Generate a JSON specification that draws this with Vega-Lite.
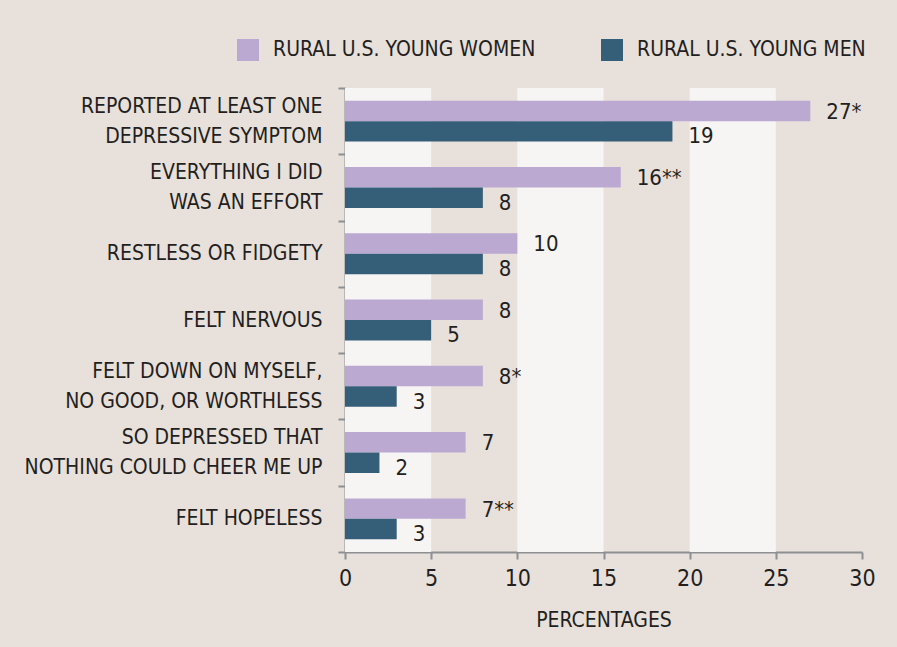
{
  "$schema": "https://vega.github.io/schema/vega-lite/v6.json",
  "width": 517,
  "height": 464,
  "autosize": {"type": "none"},
  "padding": {"left": 345, "top": 88, "right": 35, "bottom": 95},
  "background": "#e8e0db",
  "config": {
    "font": "DejaVu Sans Condensed",
    "view": {"stroke": null},
    "axis": {"labelColor": "#231f20", "titleColor": "#231f20", "domainColor": "#8c8f93", "tickColor": "#8c8f93", "domainWidth": 2, "tickWidth": 2, "grid": false}
  },
  "data": {
    "values": [
      {"cat": "REPORTED AT LEAST ONE|DEPRESSIVE SYMPTOM", "group": "RURAL U.S. YOUNG WOMEN", "value": 27, "label": "27*"},
      {"cat": "REPORTED AT LEAST ONE|DEPRESSIVE SYMPTOM", "group": "RURAL U.S. YOUNG MEN", "value": 19, "label": "19"},
      {"cat": "EVERYTHING I DID|WAS AN EFFORT", "group": "RURAL U.S. YOUNG WOMEN", "value": 16, "label": "16**"},
      {"cat": "EVERYTHING I DID|WAS AN EFFORT", "group": "RURAL U.S. YOUNG MEN", "value": 8, "label": "8"},
      {"cat": "RESTLESS OR FIDGETY", "group": "RURAL U.S. YOUNG WOMEN", "value": 10, "label": "10"},
      {"cat": "RESTLESS OR FIDGETY", "group": "RURAL U.S. YOUNG MEN", "value": 8, "label": "8"},
      {"cat": "FELT NERVOUS", "group": "RURAL U.S. YOUNG WOMEN", "value": 8, "label": "8"},
      {"cat": "FELT NERVOUS", "group": "RURAL U.S. YOUNG MEN", "value": 5, "label": "5"},
      {"cat": "FELT DOWN ON MYSELF,|NO GOOD, OR WORTHLESS", "group": "RURAL U.S. YOUNG WOMEN", "value": 8, "label": "8*"},
      {"cat": "FELT DOWN ON MYSELF,|NO GOOD, OR WORTHLESS", "group": "RURAL U.S. YOUNG MEN", "value": 3, "label": "3"},
      {"cat": "SO DEPRESSED THAT|NOTHING COULD CHEER ME UP", "group": "RURAL U.S. YOUNG WOMEN", "value": 7, "label": "7"},
      {"cat": "SO DEPRESSED THAT|NOTHING COULD CHEER ME UP", "group": "RURAL U.S. YOUNG MEN", "value": 2, "label": "2"},
      {"cat": "FELT HOPELESS", "group": "RURAL U.S. YOUNG WOMEN", "value": 7, "label": "7**"},
      {"cat": "FELT HOPELESS", "group": "RURAL U.S. YOUNG MEN", "value": 3, "label": "3"}
    ]
  },
  "layer": [
    {
      "data": {"values": [{"s": 0, "e": 5}, {"s": 10, "e": 15}, {"s": 20, "e": 25}]},
      "mark": {"type": "rect", "color": "#f6f5f3"},
      "encoding": {
        "x": {"field": "s", "type": "quantitative", "scale": {"domain": [0, 30]}},
        "x2": {"field": "e"}
      }
    },
    {
      "mark": {"type": "bar"},
      "encoding": {
        "y": {"field": "cat", "type": "nominal", "sort": null, "scale": {"paddingInner": 0, "paddingOuter": 0},
          "axis": {"title": null, "labelExpr": "indexof(datum.label, '|') >= 0 ? [split(datum.label, '|')[0], '\u200b', split(datum.label, '|')[1]] : ['', datum.label]", "labelFontSize": 21, "labelLineHeight": 15, "labelOffset": -15,
            "tickBand": "extent", "tickSize": 7, "labelPadding": 16, "labelLimit": 400}},
        "yOffset": {"field": "group", "sort": ["RURAL U.S. YOUNG WOMEN", "RURAL U.S. YOUNG MEN"], "scale": {"paddingInner": 0, "paddingOuter": 0.62}},
        "x": {"field": "value", "type": "quantitative", "scale": {"domain": [0, 30], "nice": false},
          "axis": {"title": "PERCENTAGES", "values": [0, 5, 10, 15, 20, 25, 30], "labelFlush": false, "labelFontSize": 23, "titleFontSize": 21, "titleFontWeight": "normal", "tickSize": 7, "labelPadding": 8, "titlePadding": 19}},
        "color": {"field": "group", "type": "nominal", "sort": ["RURAL U.S. YOUNG WOMEN", "RURAL U.S. YOUNG MEN"],
          "scale": {"domain": ["RURAL U.S. YOUNG WOMEN", "RURAL U.S. YOUNG MEN"], "range": ["#bba9d1", "#355e78"]},
          "legend": {"title": null, "orient": "none", "legendX": -108, "legendY": -49, "direction": "horizontal", "symbolType": "square", "symbolSize": 484, "symbolStrokeWidth": 0, "symbolOpacity": 1, "labelFontSize": 21, "labelLimit": 400, "labelColor": "#231f20", "labelOffset": 14, "columnPadding": 65, "padding": 0}}
      }
    },
    {
      "transform": [{"filter": "datum.group == 'RURAL U.S. YOUNG WOMEN'"}],
      "mark": {"type": "text", "align": "left", "baseline": "middle", "dx": 16, "dy": 1, "fontSize": 22, "color": "#231f20"},
      "encoding": {
        "y": {"field": "cat", "type": "nominal", "sort": null},
        "yOffset": {"field": "group", "sort": ["RURAL U.S. YOUNG WOMEN", "RURAL U.S. YOUNG MEN"]},
        "x": {"field": "value", "type": "quantitative"},
        "text": {"field": "label"}
      }
    },
    {
      "transform": [{"filter": "datum.group == 'RURAL U.S. YOUNG MEN'"}],
      "mark": {"type": "text", "align": "left", "baseline": "middle", "dx": 16, "dy": 5, "fontSize": 22, "color": "#231f20"},
      "encoding": {
        "y": {"field": "cat", "type": "nominal", "sort": null},
        "yOffset": {"field": "group", "sort": ["RURAL U.S. YOUNG WOMEN", "RURAL U.S. YOUNG MEN"]},
        "x": {"field": "value", "type": "quantitative"},
        "text": {"field": "label"}
      }
    }
  ]
}
